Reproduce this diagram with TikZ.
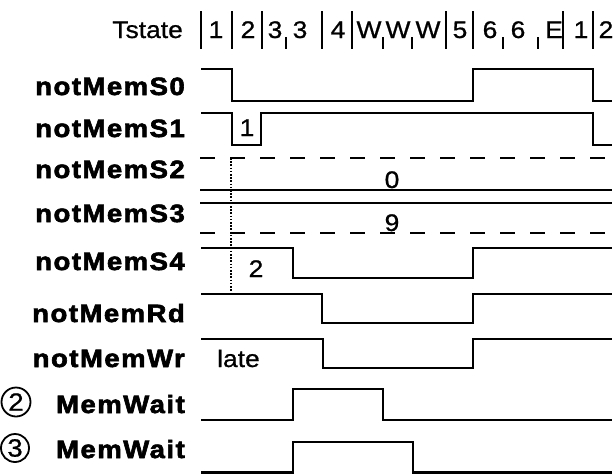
\documentclass[tikz,border=0pt]{standalone}
\usepackage{fontspec}
\setmainfont{Liberation Sans}[FakeStretch=1.1,FakeBold=0.8]
\newfontfamily\lblfont{Liberation Sans}[FakeStretch=1.1,LetterSpace=6,BoldFeatures={FakeBold=2.5}]
\begin{document}
\begin{tikzpicture}[x=1pt,y=-1pt,
  sig/.style={line width=2.4pt, line join=miter, line cap=butt},
  bar/.style={line width=2.5pt},
  tick/.style={line width=2.1pt},
  dsh/.style={line width=2.3pt, dash pattern=on 15pt off 15pt},
  txt/.style={font=\fontsize{24}{28}\selectfont, inner sep=0pt},
  lbl/.style={font=\fontsize{25}{30}\selectfont\lblfont\bfseries, inner sep=0pt, anchor=base east},
  ring/.style={circle, draw, line width=1.8pt, inner sep=0pt, font=\fontsize{25}{28}\selectfont}]
\useasboundingbox (0,0) rectangle (615,474);
% left labels
\node[txt, anchor=base east] (lT) at (183,38) {Tstate};
\node[lbl] (l0) at (185,95) {notMemS0};
\node[lbl] (l1) at (185,137) {notMemS1};
\node[lbl] (l2) at (185,178) {notMemS2};
\node[lbl] (l3) at (185,222) {notMemS3};
\node[lbl] (l4) at (185,270) {notMemS4};
\node[lbl] (lR) at (185,322) {notMemRd};
\node[lbl] (lW) at (185,367) {notMemWr};
\node[lbl] (lM2) at (185,413) {MemWait};
\node[lbl] (lM3) at (185,458) {MemWait};
\node[ring, minimum size=29pt] (c2) at (16,402) {2};
\node[ring, minimum size=28pt] (c3) at (15,448) {3};
% Tstate bars
\foreach \x in {201,232,262,322,352,446,473,563,593}
  \draw[bar] (\x,11) -- (\x,49);
\foreach \x in {286,383,412,503,538}
  \draw[tick] (\x,37) -- (\x,49);
\node[txt, anchor=base] (s1) at (216,38) {1};
\node[txt, anchor=base] (s2) at (248,38) {2};
\node[txt, anchor=base] (s3) at (275,38) {3};
\node[txt, anchor=base] (s4) at (300,38) {3};
\node[txt, anchor=base] (s5) at (338,38) {4};
\node[txt, anchor=base] (s6) at (369,38) {W};
\node[txt, anchor=base] (s7) at (398,38) {W};
\node[txt, anchor=base] (s8) at (428,38) {W};
\node[txt, anchor=base] (s9) at (460,38) {5};
\node[txt, anchor=base] (s10) at (490,38) {6};
\node[txt, anchor=base] (s11) at (518,38) {6};
\node[txt, anchor=base] (s12) at (554,38) {E};
\node[txt, anchor=base] (s13) at (581,38) {1};
\node[txt, anchor=base] (s14) at (606,38) {2};
% signals
\draw[sig] (201,69) -- (232,69) -- (232,101) -- (473,101) -- (473,69) -- (593,69) -- (593,101) -- (612,101);
\draw[sig] (201,113) -- (232,113) -- (232,145) -- (261,145) -- (261,113) -- (593,113) -- (593,145) -- (612,145);
\draw[dsh] (200,158) -- (615,158);
\draw[sig] (200,190) -- (612,190);
\draw[sig] (200,203) -- (612,203);
\draw[dsh] (200,233) -- (615,233);
\draw[sig] (201,248) -- (293,248) -- (293,278) -- (473,278) -- (473,248) -- (612,248);
\draw[sig] (201,294) -- (322,294) -- (322,323) -- (473,323) -- (473,294) -- (612,294);
\draw[sig] (201,339) -- (323,339) -- (323,368) -- (473,368) -- (473,339) -- (612,339);
\draw[sig] (201,420) -- (293,420) -- (293,389) -- (383,389) -- (383,420) -- (612,420);
\draw[sig] (201,472.5) -- (293,472.5) -- (293,442) -- (413,442) -- (413,472.5) -- (612,472.5);
\draw[line width=2pt, dash pattern=on 1.5pt off 1.7pt] (231,158) -- (231,291);
% value labels
\node[txt, anchor=base] (v1) at (247,136) {1};
\node[txt, anchor=base] (v0) at (392,188) {0};
\node[txt, anchor=base] (v9) at (392,231) {9};
\node[txt, anchor=base] (v2) at (256,277) {2};
\node[txt, anchor=base west] (vl) at (217,367) {late};
\end{tikzpicture}
\end{document}
